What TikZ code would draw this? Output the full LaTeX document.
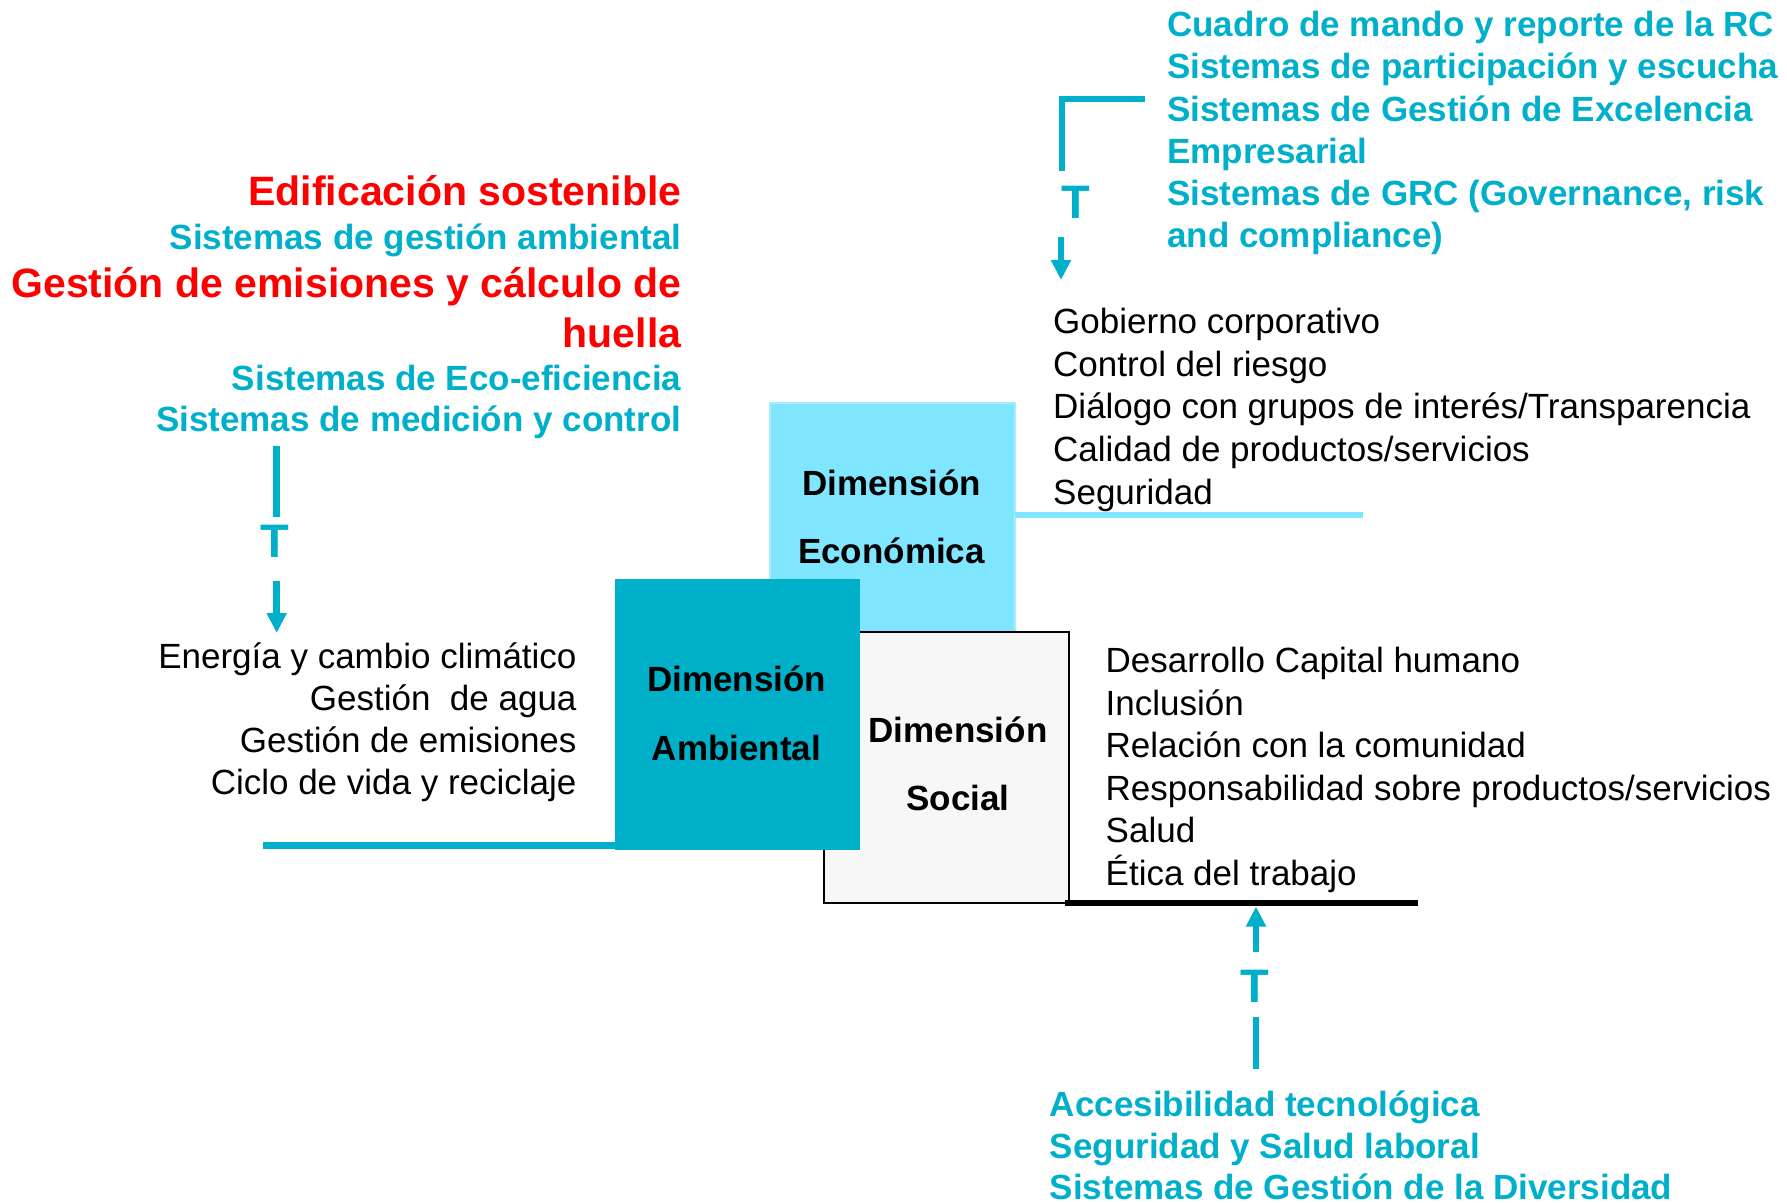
\documentclass[tikz,border=0pt]{standalone}
\usepackage{fontspec}
\setmainfont{Liberation Sans}
\usetikzlibrary{arrows.meta}
\definecolor{cyantext}{RGB}{0,176,202}
\definecolor{ambfill}{RGB}{0,175,200}
\definecolor{econfill}{RGB}{128,230,255}
\definecolor{econedge}{RGB}{165,238,255}
\definecolor{socfill}{RGB}{247,247,247}
\definecolor{redtext}{RGB}{255,0,0}
\begin{document}
\begin{tikzpicture}[x=1pt,y=-1pt,
  cytext/.style={text=cyantext, font=\fontsize{35}{42}\selectfont\bfseries, inner sep=0pt},
  rdtext/.style={text=redtext, font=\fontsize{41}{48}\selectfont\bfseries, inner sep=0pt},
  bktext/.style={text=black, font=\fontsize{35}{42}\selectfont, inner sep=0pt},
  dimtext/.style={text=black, font=\fontsize{35}{42}\selectfont\bfseries, inner sep=0pt, anchor=base},
  tletter/.style={text=cyantext, font=\fontsize{47}{50}\selectfont\bfseries, inner sep=0pt, anchor=base},
  conn/.style={draw=cyantext, line width=6.5pt},
  arr/.style={conn, -{Triangle[width=19pt,length=20pt]}},
  boxnode/.style={anchor=north west, inner sep=0pt, outer sep=0pt}
]
\useasboundingbox (0,0) rectangle (1787,1202);

% boxes
\node[boxnode, fill=econfill, draw=econedge, line width=2pt, minimum width=245pt, minimum height=240pt] (econ) at (770,402.5) {};
\node[boxnode, fill=socfill, draw=black, line width=2pt, minimum width=245.5pt, minimum height=270.5pt] (soc) at (823.5,632) {};
\node[boxnode, fill=ambfill, minimum width=245pt, minimum height=271pt] (amb) at (615,579) {};

% box labels
\node[dimtext] (econ1) at (891.5,495.5) {Dimensión};
\node[dimtext] (econ2) at (891.5,563) {Económica};
\node[dimtext] (amb1) at (736.5,691.8) {Dimensión};
\node[dimtext] (amb2) at (736.5,760.3) {Ambiental};
\node[dimtext] (soc1) at (958,742) {Dimensión};
\node[dimtext] (soc2) at (958,810.3) {Social};

% base lines
\coordinate (eL) at (1015,515);
\coordinate (eR) at (1363,515);
\draw[draw=econfill, line width=6.5pt] (eL) -- (eR);
\coordinate (aL) at (263,845);
\coordinate (aR) at (615,845);
\draw[conn, line width=7pt] (aL) -- (aR);
\coordinate (sL) at (1065,902.5);
\coordinate (sR) at (1418,902.5);
\draw[draw=black, line width=6pt] (sL) -- (sR);

% top right text
\foreach \t [count=\i] in {Cuadro de mando y reporte de la RC, Sistemas de participación y escucha, Sistemas de Gestión de Excelencia, Empresarial, {Sistemas de GRC (Governance, risk}, and compliance)}
  \node[cytext, anchor=base west] (tr\i) at (1167,{36.6+42.2*(\i-1)}) {\t};

% economic list
\foreach \t [count=\i] in {Gobierno corporativo, Control del riesgo, Diálogo con grupos de interés/Transparencia, Calidad de productos/servicios, Seguridad}
  \node[bktext, anchor=base west] (ec\i) at (1053,{333.5+42.7*(\i-1)}) {\t};

% social list
\foreach \t [count=\i] in {Desarrollo Capital humano, Inclusión, Relación con la comunidad, Responsabilidad sobre productos/servicios, Salud, Ética del trabajo}
  \node[bktext, anchor=base west] (so\i) at (1105.5,{672.5+42.6*(\i-1)}) {\t};

% environmental list
\foreach \t [count=\i] in {Energía y cambio climático, Gestión\ \ de agua, Gestión de emisiones, Ciclo de vida y reciclaje}
  \node[bktext, anchor=base east] (en\i) at (576.7,{668.2+42.2*(\i-1)}) {\t};

% left tools text
\node[rdtext, anchor=base east] (l1) at (681.5,205) {Edificación sostenible};
\node[cytext, anchor=base east] (l2) at (681.5,249) {Sistemas de gestión ambiental};
\node[rdtext, anchor=base east] (l3) at (681.5,297) {Gestión de emisiones y cálculo de};
\node[rdtext, anchor=base east] (l4) at (681.5,347) {huella};
\node[cytext, anchor=base east] (l5) at (681.5,390) {Sistemas de Eco-eficiencia};
\node[cytext, anchor=base east] (l6) at (681.5,431.5) {Sistemas de medición y control};

% bottom tools text
\foreach \t [count=\i] in {Accesibilidad tecnológica, Seguridad y Salud laboral, Sistemas de Gestión de la Diversidad}
  \node[cytext, anchor=base west] (bt\i) at (1049.7,{1116.5+41.6*(\i-1)}) {\t};

% top-right connector
\coordinate (c1) at (1145,99);
\coordinate (c2) at (1062,99);
\coordinate (c3) at (1062,171);
\draw[conn, line join=miter] (c1) -- (c2) -- (c3);
\node[tletter] (tTR) at (1076,218.3) {T};
\coordinate (c4) at (1061,237);
\coordinate (c5) at (1061,280);
\draw[arr] (c4) -- (c5);

% left connector
\coordinate (d1) at (276.7,446);
\coordinate (d2) at (276.7,517);
\draw[conn] (d1) -- (d2);
\node[tletter] (tL) at (275,557.7) {T};
\coordinate (d3) at (276.7,581);
\coordinate (d4) at (276.7,633);
\draw[arr] (d3) -- (d4);

% bottom connector
\coordinate (b1) at (1256,1069);
\coordinate (b2) at (1256,1017);
\draw[conn] (b1) -- (b2);
\node[tletter] (tB) at (1255,1002.7) {T};
\coordinate (b3) at (1256,952);
\coordinate (b4) at (1256,906.5);
\draw[arr] (b3) -- (b4);
\end{tikzpicture}
\end{document}
